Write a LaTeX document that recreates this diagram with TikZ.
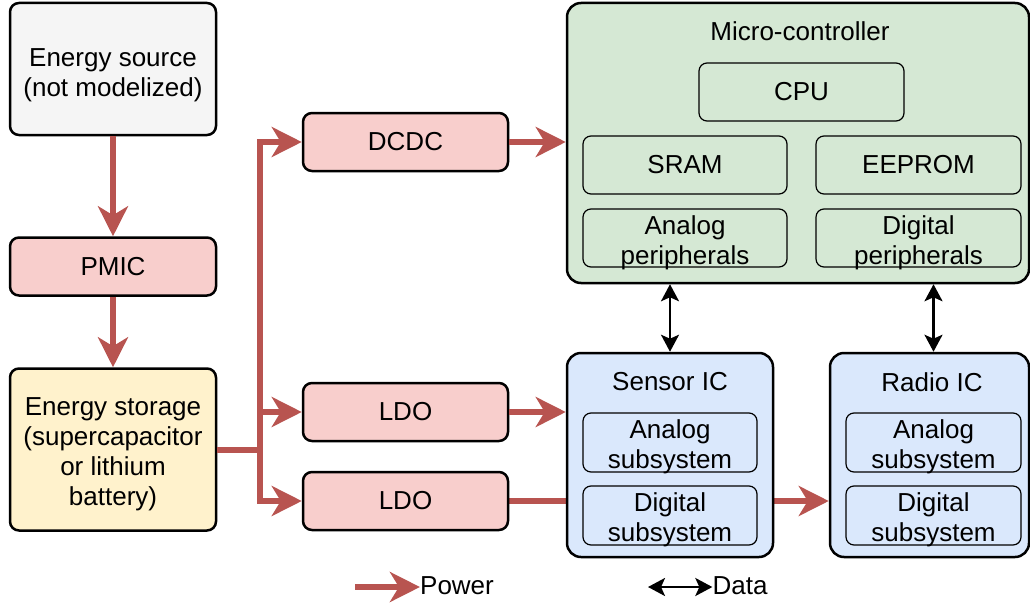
\documentclass[tikz,border=0pt]{standalone}
\usepackage{fontspec}
\setmainfont{Liberation Sans}
\usetikzlibrary{positioning,arrows.meta,backgrounds}

\definecolor{powred}{HTML}{B85450}
\definecolor{pinkfill}{HTML}{F8CECC}
\definecolor{greenfill}{HTML}{D5E8D4}
\definecolor{bluefill}{HTML}{DAE8FC}
\definecolor{yellowfill}{HTML}{FFF2CC}
\definecolor{greyfill}{HTML}{F5F5F5}

\begin{document}
\begin{tikzpicture}[x=1pt,y=1pt,
  every node/.style={inner sep=0pt, align=center, font=\fontsize{26}{30}\selectfont},
  twoline/.style={text depth=0pt, text height=52pt},
  block/.style={draw=black, line width=2.5pt, rounded corners=9pt, minimum width=206pt, minimum height=58pt},
  chip/.style={draw=black, line width=2.5pt, rounded corners=14pt},
  part/.style={draw=black, line width=1.2pt, rounded corners=8pt, minimum width=204pt, minimum height=58pt},
  power/.style={draw=powred, line width=6pt, -{Stealth[length=30pt,width=30pt,inset=9pt]}},
  data/.style={draw=black, line width=2.5pt, {Stealth[length=17pt,width=18pt,inset=4pt]}-{Stealth[length=17pt,width=18pt,inset=4pt]}}]
\useasboundingbox (0,0) rectangle (1030,-610);
% energy chain
\node [block, twoline, text height=54pt, fill=greyfill, minimum height=132pt] (src) at (113,-69) {Energy source\\(not modelized)};
\node [block, fill=pinkfill] (pmic) at (113,-266.5) {PMIC};
\node [block, fill=yellowfill, minimum height=162pt, text depth=0pt, text height=112pt] (store) at (113,-449.5) {Energy storage\\(supercapacitor\\or lithium\\battery)};
\node [block, fill=pinkfill, minimum width=205pt] (dcdc) at (405.5,-142) {DCDC};
\node [block, fill=pinkfill, minimum width=205pt] (ldoa) at (405.5,-412) {LDO};
\node [block, fill=pinkfill, minimum width=205pt] (ldob) at (405.5,-501) {LDO};
\coordinate (jn) at (260,-450);
% micro-controller
\node [chip, fill=greenfill, minimum width=462pt, minimum height=280pt] (mcu) at (798,-143) {};
\node (mcut) at (800,-31) {Micro-controller};
\node [part, minimum width=205pt] (cpu) at (801.5,-92) {CPU};
\node [part] (sram) at (685,-165) {SRAM};
\node [part, minimum width=205pt] (eeprom) at (918.5,-165) {EEPROM};
\node [part, twoline] (aper) at (685,-238) {Analog\\peripherals};
\node [part, twoline, minimum width=205pt] (dper) at (918.5,-238) {Digital\\peripherals};
% sensor and radio
\node [chip, fill=bluefill, minimum width=206pt, minimum height=204pt] (sens) at (670,-455) {};
\node (senst) at (670,-382) {Sensor IC};
\node [part, twoline, minimum width=174pt, minimum height=59pt] (sana) at (670,-442.5) {Analog\\subsystem};
\node [part, twoline, minimum width=174pt, minimum height=59pt] (sdig) at (670,-515.5) {Digital\\subsystem};
\node [chip, fill=bluefill, minimum width=199pt, minimum height=204pt] (radio) at (929.5,-455) {};
\node (radiot) at (932,-382) {Radio IC};
\node [part, twoline, minimum width=175pt, minimum height=59pt] (rana) at (933.5,-442.5) {Analog\\subsystem};
\node [part, twoline, minimum width=175pt, minimum height=59pt] (rdig) at (933.5,-515.5) {Digital\\subsystem};
% power
\draw [power] (src) -- (pmic);
\draw [power] (pmic) -- (store);
\draw [power, -] (store.east) -- (store.east -| jn);
\draw [power] (jn) |- (dcdc.west);
\draw [power] (jn) |- (ldoa.west);
\draw [power] (jn) |- (ldob.west);
\draw [power] (dcdc.east) -- (dcdc.east -| mcu.west);
\draw [power] (ldoa.east) -- (ldoa.east -| sens.west);
\begin{pgfonlayer}{background}
\draw [power] (ldob.east) -- (ldob.east -| radio.west);
\end{pgfonlayer}
% data
\draw [data] (sens.north) -- (sens.north |- mcu.south);
\draw [data] (rana.north |- radio.north) -- (rana.north |- mcu.south);
% legend
\node (lgpow) at (457,-586) {Power};
\coordinate (lgpa) at (355,-587);
\draw [power] (lgpa) -- (lgpa -| lgpow.west);
\node (lgdat) at (740,-586) {Data};
\coordinate (lgda) at (648,-587);
\draw [data] (lgda) -- (lgda -| lgdat.west);
\end{tikzpicture}
\end{document}
